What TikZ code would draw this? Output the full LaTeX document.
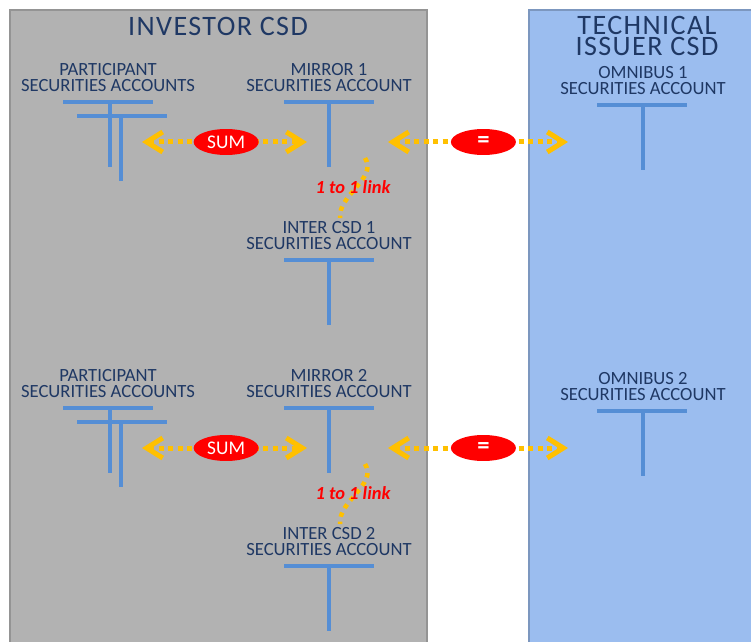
\documentclass[tikz,border=0pt]{standalone}
\usepackage{fontspec}
\setmainfont{Carlito}
\newfontfamily\csdtitlefont[LetterSpace=5]{Carlito}
\usetikzlibrary{shapes.geometric, arrows.meta, positioning}

\definecolor{csdgray}{RGB}{178,178,178}
\definecolor{csdblue}{RGB}{155,189,239}
\definecolor{acctblue}{RGB}{31,56,100}
\definecolor{tblue}{RGB}{85,142,213}
\definecolor{flowgold}{RGB}{255,192,0}

\begin{document}
\begin{tikzpicture}[
    x=0.02cm, y=-0.02cm,
    investor/.style={fill=csdgray, draw=black!42, line width=1pt},
    issuer/.style={fill=csdblue, draw=csdblue!80!black, line width=1pt},
    csdtitle/.style={text=acctblue, align=center, inner sep=0, font=\csdtitlefont\fontsize{16}{12}\selectfont},
    acct/.style={text=acctblue, align=center, inner sep=0, font=\fontsize{10.6}{9.1}\selectfont},
    tacct/.style={draw=tblue, line width=0.08cm},
    flow/.style={draw=flowgold, line width=0.1cm, dash pattern=on 0.1cm off 0.09cm,
        {Straight Barb[length=0.32cm, width=0.4cm]}-{Straight Barb[length=0.32cm, width=0.4cm]}},
    bubble/.style={ellipse, fill=red, text=white, inner sep=0, minimum width=1.3cm, minimum height=0.52cm, font=\fontsize{11}{12}\selectfont},
    linkflow/.style={draw=flowgold, line width=0.09cm, dash pattern=on 0.09cm off 0.1cm},
    linktext/.style={text=red, inner sep=0, font=\fontsize{10.5}{12}\selectfont\bfseries\itshape}
]
\useasboundingbox (0,0) rectangle (751,642);

% CSD panels
\draw[investor] (10,10) rectangle (427,660);
\draw[issuer] (529,10) rectangle (770,660);
\node[csdtitle] (inv) at (218,26) {INVESTOR CSD};
\node[csdtitle] (tic) at (647,36) {TECHNICAL\\ISSUER CSD};

% Accounts, first chain
\node[acct] (part1) at (108,78) {PARTICIPANT\\SECURITIES ACCOUNTS};
\node[acct] (mir1) at (329,78) {MIRROR 1\\SECURITIES ACCOUNT};
\node[acct] (omn1) at (643,81) {OMNIBUS 1\\SECURITIES ACCOUNT};
\node[acct] (icsd1) at (329,236) {INTER CSD 1\\SECURITIES ACCOUNT};

\draw[tacct] (part1.south) ++(-45,10) -- ++(90,0) ++(-43,0) -- ++(0,65);
\draw[tacct] (part1.south) ++(-31,24) -- ++(90,0) ++(-46,0) -- ++(0,65);
\draw[tacct] (mir1.south) ++(-45,10) -- ++(90,0) ++(-45,0) -- ++(0,65);
\draw[tacct] (omn1.south) ++(-46,10) -- ++(90,0) ++(-44,0) -- ++(0,65);
\draw[tacct] (icsd1.south) ++(-45,10) -- ++(90,0) ++(-45,0) -- ++(0,65);

\coordinate (sumL1) at (142,142);
\coordinate (sumR1) at (307,142);
\coordinate (eqL1) at (388,142);
\coordinate (eqR1) at (568,142);
\draw[flow] (sumL1) -- node[bubble, pos=0.51] (sum1) {SUM} (sumR1);
\draw[flow] (eqL1) -- node[bubble, pos=0.53] (eq1) {\fontsize{14}{14}\selectfont\bfseries =} (eqR1);

\coordinate (lnkA1) at (365,158);
\coordinate (lnkB1) at (340,218);
\draw[linkflow] (lnkA1) .. controls (378,178) and (338,195) .. (lnkB1);
\node[linktext] (lnk1) at (353,187) {1 to 1 link};

% Accounts, second chain
\node[acct] (part2) at (108,384) {PARTICIPANT\\SECURITIES ACCOUNTS};
\node[acct] (mir2) at (329,384) {MIRROR 2\\SECURITIES ACCOUNT};
\node[acct] (omn2) at (643,387) {OMNIBUS 2\\SECURITIES ACCOUNT};
\node[acct] (icsd2) at (329,542) {INTER CSD 2\\SECURITIES ACCOUNT};

\draw[tacct] (part2.south) ++(-45,10) -- ++(90,0) ++(-43,0) -- ++(0,65);
\draw[tacct] (part2.south) ++(-31,24) -- ++(90,0) ++(-46,0) -- ++(0,65);
\draw[tacct] (mir2.south) ++(-45,10) -- ++(90,0) ++(-45,0) -- ++(0,65);
\draw[tacct] (omn2.south) ++(-46,10) -- ++(90,0) ++(-44,0) -- ++(0,65);
\draw[tacct] (icsd2.south) ++(-45,10) -- ++(90,0) ++(-45,0) -- ++(0,65);

\coordinate (sumL2) at (142,448);
\coordinate (sumR2) at (307,448);
\coordinate (eqL2) at (388,448);
\coordinate (eqR2) at (568,448);
\draw[flow] (sumL2) -- node[bubble, pos=0.51] (sum2) {SUM} (sumR2);
\draw[flow] (eqL2) -- node[bubble, pos=0.53] (eq2) {\fontsize{14}{14}\selectfont\bfseries =} (eqR2);

\coordinate (lnkA2) at (365,464);
\coordinate (lnkB2) at (340,524);
\draw[linkflow] (lnkA2) .. controls (378,484) and (338,501) .. (lnkB2);
\node[linktext] (lnk2) at (353,493) {1 to 1 link};

\end{tikzpicture}
\end{document}
